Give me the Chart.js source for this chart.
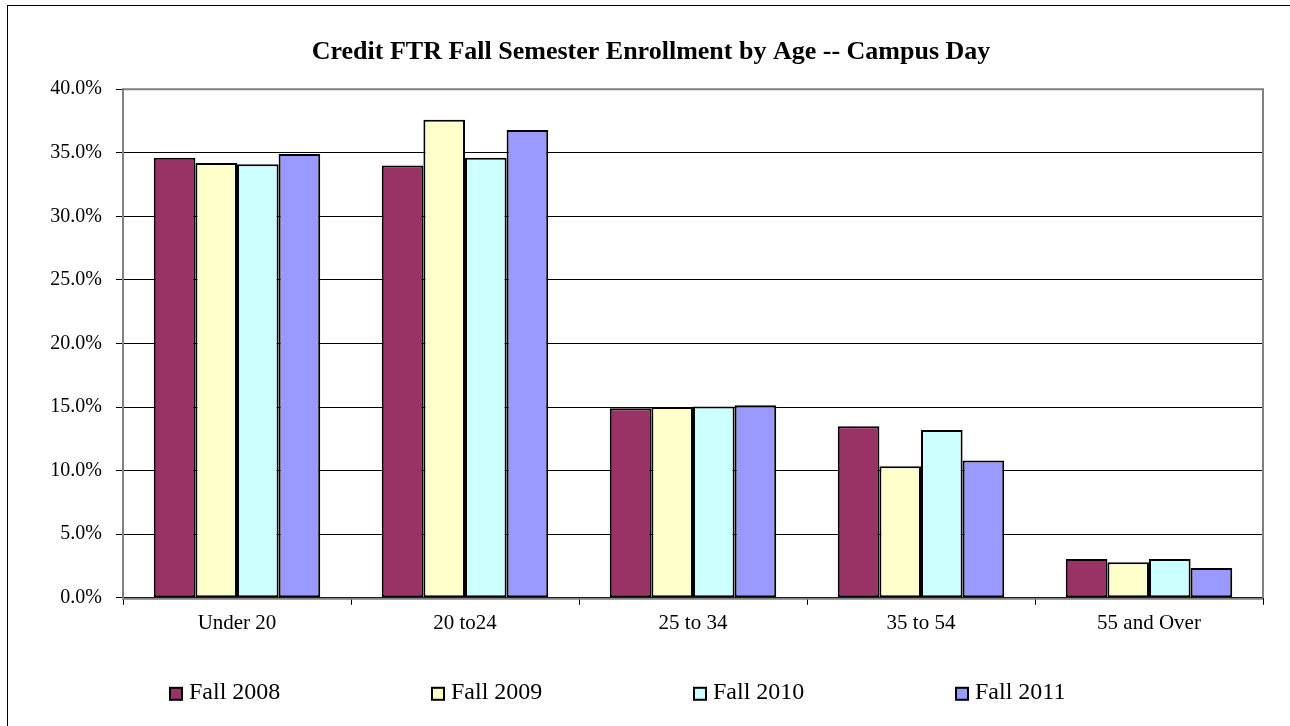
<!DOCTYPE html>
<html>
<head>
<meta charset="utf-8">
<script src="https://cdn.jsdelivr.net/npm/chart.js@4"></script>
<style>
html,body{margin:0;padding:0;background:#fff;}
#wrap{position:absolute;left:0;top:0;width:1290px;height:726px;}
</style>
</head>
<body>
<div id="wrap"><canvas id="c" width="1290" height="726"></canvas></div>
<script>
const categories = ["Under 20", "20 to24", "25 to 34", "35 to 54", "55 and Over"];
const seriesNames = ["Fall 2008", "Fall 2009", "Fall 2010", "Fall 2011"];
const fall2008 = [34.6, 34.0, 14.9, 13.5, 3.05];
const fall2009 = [34.2, 37.6, 15.0, 10.35, 2.8];
const fall2010 = [34.1, 34.6, 15.05, 13.2, 3.05];
const fall2011 = [34.9, 36.8, 15.15, 10.8, 2.35];
const yTicks = [0, 5, 10, 15, 20, 25, 30, 35, 40];
const colors = ["#993366", "#FFFFCC", "#CCFFFF", "#9999FF"];
const titleText = "Credit FTR Fall Semester Enrollment by Age -- Campus Day";

const serif = "'Liberation Serif', 'Times New Roman', serif";
const allSeries = [fall2008, fall2009, fall2010, fall2011];

const frame = {
  id: 'frame',
  beforeDraw(chart) {
    const ctx = chart.ctx;
    ctx.save();
    ctx.fillStyle = '#fff';
    ctx.fillRect(0, 0, chart.width, chart.height);
    ctx.strokeStyle = '#000';
    ctx.lineWidth = 1;
    ctx.strokeRect(7.5, 5.5, 1400, 900);
    ctx.restore();
  },
  afterDatasetsDraw(chart) {
    const a = chart.chartArea;
    const ctx = chart.ctx;
    ctx.save();
    ctx.strokeStyle = '#808080';
    ctx.lineWidth = 2;
    ctx.beginPath();
    ctx.moveTo(a.left, a.top);
    ctx.lineTo(a.right, a.top);
    ctx.lineTo(a.right, a.bottom);
    ctx.stroke();
    ctx.beginPath();
    ctx.moveTo(a.left, a.top - 1);
    ctx.lineTo(a.left, a.bottom + 1);
    ctx.lineTo(a.right, a.bottom + 1);
    ctx.stroke();
    ctx.restore();
  },
  afterDraw(chart) {
    const a = chart.chartArea;
    const ctx = chart.ctx;
    ctx.save();
    ctx.font = "24px " + serif;
    ctx.textBaseline = 'middle';
    ctx.textAlign = 'left';
    const y = a.bottom + 96;
    chart.data.datasets.forEach((ds, i) => {
      const x = a.left + 47 + i * 262;
      ctx.fillStyle = ds.backgroundColor;
      ctx.fillRect(x, y - 6, 12, 12);
      ctx.strokeStyle = '#000';
      ctx.lineWidth = 2;
      ctx.strokeRect(x, y - 6, 12, 12);
      ctx.fillStyle = '#000';
      ctx.fillText(ds.label, x + 19, y - 1);
    });
    ctx.restore();
  }
};

new Chart(document.getElementById('c'), {
  type: 'bar',
  data: {
    labels: categories,
    datasets: allSeries.map((d, i) => ({
      label: seriesNames[i],
      data: d,
      backgroundColor: colors[i],
      borderColor: '#000',
      borderWidth: 2,
      borderSkipped: false,
      categoryPercentage: 0.73,
      barPercentage: 1.0
    }))
  },
  options: {
    responsive: false,
    animation: false,
    devicePixelRatio: 1,
    layout: { padding: { left: 39, right: 27, top: 0, bottom: 84 } },
    plugins: {
      title: {
        display: true,
        text: titleText,
        color: '#000',
        font: { family: serif, size: 26, weight: 'bold' },
        padding: { top: 37, bottom: 21 }
      },
      legend: { display: false },
      tooltip: { enabled: false }
    },
    scales: {
      y: {
        min: 0, max: 40,
        afterFit(s) { s.width = 84; },
        afterBuildTicks(s) { s.ticks = yTicks.map(v => ({ value: v })); },
        ticks: {
          color: '#000',
          font: { family: serif, size: 20 },
          padding: 14,
          callback: v => v.toFixed(1) + '%'
        },
        grid: { color: '#000', lineWidth: 1, tickLength: 7, drawTicks: true, tickColor: '#000' },
        border: { display: false }
      },
      x: {
        ticks: { color: '#000', font: { family: serif, size: 21 }, padding: 6 },
        grid: { display: true, drawOnChartArea: false, drawTicks: true, tickLength: 7, color: '#000', offset: true },
        border: { display: false }
      }
    }
  },
  plugins: [frame]
});
</script>
</body>
</html>
